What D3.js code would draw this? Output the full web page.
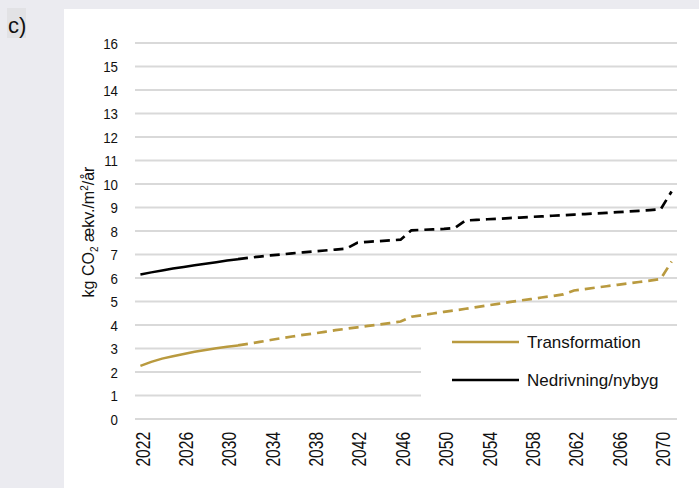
<!DOCTYPE html>
<html>
<head>
<meta charset="utf-8">
<script src="https://cdn.jsdelivr.net/npm/d3@7"></script>
<style>
  body { margin: 0; background: #ebebf0; }
  svg { display: block; }
</style>
</head>
<body>
<svg id="chart" width="699" height="488"></svg>
<script>
// years on the category axis
var years = [];
for (var yr = 2022; yr <= 2071; yr++) years.push(yr);

var yTicks = [0,1,2,3,4,5,6,7,8,9,10,11,12,13,14,15,16];
var xTickYears = [2022,2026,2030,2034,2038,2042,2046,2050,2054,2058,2062,2066,2070];

// Transformation (gold)
var transformation = [2.26,2.43,2.57,2.67,2.77,2.86,2.94,3.01,3.07,3.13,
  3.20,3.28,3.36,3.44,3.51,3.58,3.64,3.71,3.78,3.84,
  3.90,3.96,4.02,4.08,4.15,4.35,4.42,4.49,4.56,4.62,
  4.69,4.76,4.83,4.90,4.97,5.04,5.10,5.17,5.23,5.30,
  5.47,5.53,5.59,5.65,5.71,5.77,5.83,5.89,5.96,6.70];

// Nedrivning/nybyg (black)
var nedrivning = [6.15,6.24,6.32,6.40,6.47,6.54,6.61,6.67,6.74,6.80,
  6.86,6.91,6.96,7.00,7.05,7.09,7.13,7.17,7.21,7.25,
  7.50,7.54,7.57,7.60,7.63,8.03,8.05,8.07,8.09,8.13,
  8.45,8.47,8.50,8.52,8.55,8.57,8.60,8.62,8.65,8.67,
  8.70,8.72,8.75,8.77,8.80,8.83,8.86,8.89,8.93,9.68];

var seriesNames = ["Transformation", "Nedrivning/nybyg"];
var seriesColors = ["#b99a3f", "#000000"];
var solidUntil = 2031; // solid line up to here, dashed afterwards

var svg = d3.select("#chart");
var regular = "'Liberation Sans', Arial, sans-serif";

// panel
svg.append("rect").attr("x", 64).attr("y", 9).attr("width", 635).attr("height", 479).attr("fill", "#ffffff");
svg.append("rect").attr("x", 7).attr("y", 8).attr("width", 19).attr("height", 30).attr("fill", "#e2e2e5");
svg.append("text").attr("x", 8).attr("y", 33)
  .style("font-family", regular).style("font-size", "22px").attr("fill", "#111").text("c)");

var x = d3.scaleBand().domain(years).range([135, 677]).padding(0);
var cx = function(d) { return x(d) + x.bandwidth() / 2; };
var y = d3.scaleLinear().domain([0, 16]).range([419, 43]);

// gridlines
svg.append("g").selectAll("line").data(yTicks).join("line")
  .attr("x1", 135).attr("x2", 677)
  .attr("y1", function(d) { return y(d); }).attr("y2", function(d) { return y(d); })
  .attr("stroke", "#d9d9d9").attr("stroke-width", 2);

// y tick labels (narrowed a bit)
svg.append("g").selectAll("text").data(yTicks).join("text")
  .attr("transform", function(d) { return "translate(118," + y(d) + ") scale(0.86,1)"; })
  .attr("dy", "0.36em")
  .attr("text-anchor", "end")
  .style("font-family", regular).style("font-size", "15.5px").attr("fill", "#111")
  .text(function(d) { return d; });

// x axis labels
var xAxis = d3.axisBottom(x).tickValues(xTickYears).tickSize(0).tickPadding(0);
var gx = svg.append("g").attr("transform", "translate(0,428)").call(xAxis);
gx.select(".domain").remove();
gx.selectAll("text")
  .attr("transform", "rotate(-90) scale(0.78,1)")
  .attr("x", -5).attr("y", 2).attr("dy", "0.36em")
  .attr("text-anchor", "end")
  .style("font-family", regular).style("font-size", "20px").attr("fill", "#111");

// y title
svg.append("text")
  .attr("transform", "translate(94,232) rotate(-90)")
  .attr("text-anchor", "middle")
  .style("font-family", regular).style("font-size", "16px").attr("fill", "#111")
  .html("kg CO<tspan dy='4' font-size='10px'>2</tspan><tspan dy='-4'> ækv./m</tspan><tspan dy='-6' font-size='10px'>2</tspan><tspan dy='6'>/år</tspan>");

// lines
var line = d3.line().x(function(d) { return cx(d.year); }).y(function(d) { return y(d.value); });
[transformation, nedrivning].forEach(function(vals, i) {
  var pts = years.map(function(yr, k) { return {year: yr, value: vals[k]}; });
  var solid = pts.filter(function(p) { return p.year <= solidUntil; });
  var dashed = pts.filter(function(p) { return p.year >= solidUntil; });
  svg.append("path").attr("d", line(solid)).attr("fill", "none")
    .attr("stroke", seriesColors[i]).attr("stroke-width", 2.5);
  svg.append("path").attr("d", line(dashed)).attr("fill", "none")
    .attr("stroke", seriesColors[i]).attr("stroke-width", 2.7)
    .attr("stroke-dasharray", "10,6");
});

// legend
svg.append("rect").attr("x", 421).attr("y", 331).attr("width", 270).attr("height", 80).attr("fill", "#ffffff");
var legendY = [342, 380];
seriesNames.forEach(function(name, i) {
  svg.append("line").attr("x1", 452).attr("x2", 519).attr("y1", legendY[i]).attr("y2", legendY[i])
    .attr("stroke", seriesColors[i]).attr("stroke-width", 2.7);
  svg.append("text").attr("x", 527).attr("y", legendY[i]).attr("dy", "0.36em")
    .style("font-family", regular).style("font-size", "17px").attr("fill", "#111")
    .text(name);
});
</script>
</body>
</html>
